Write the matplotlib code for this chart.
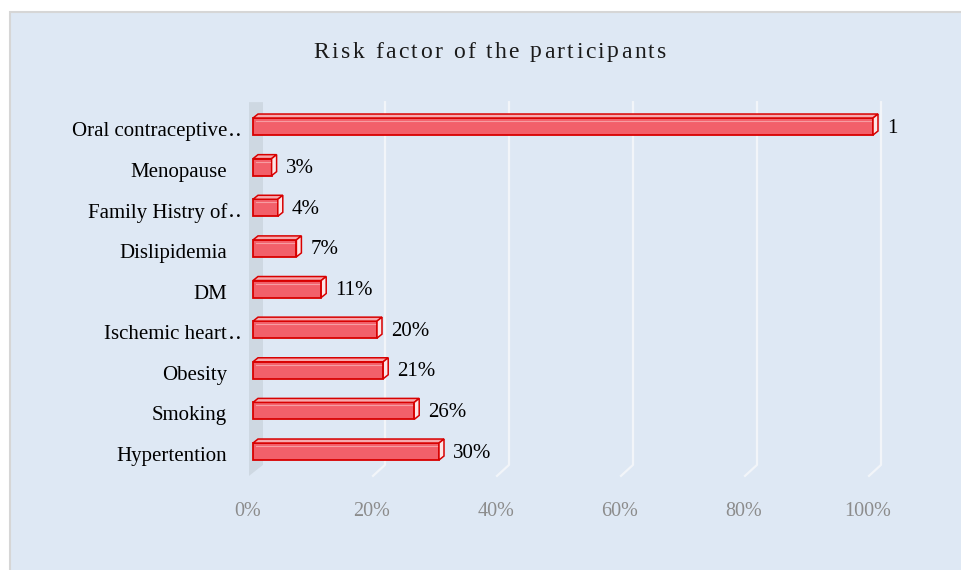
import matplotlib.pyplot as plt
from matplotlib.patches import Rectangle, Polygon
from matplotlib.textpath import TextToPath
from matplotlib.font_manager import FontProperties

# Data (bottom to top as drawn)
categories = ["Hypertention", "Smoking", "Obesity", "Ischemic heart\u2025",
              "DM", "Dislipidemia", "Family Histry of\u2025", "Menopause",
              "Oral contraceptive\u2025"]
values = [0.30, 0.26, 0.21, 0.20, 0.11, 0.07, 0.04, 0.03, 1.00]
value_labels = ["30%", "26%", "21%", "20%", "11%", "7%", "4%", "3%", "1"]
tick_values = [0, 0.2, 0.4, 0.6, 0.8, 1.0]
tick_labels = ["0%", "20%", "40%", "60%", "80%", "100%"]
title = "Risk factor of the participants"

W, H = 962, 570
plt.rcParams["font.family"] = ["Liberation Serif", "DejaVu Serif"]
fig = plt.figure(figsize=(W / 100, H / 100), dpi=100)
fig.patch.set_facecolor("white")

# chart panel
fig.patches.append(Rectangle((10 / W, -0.01), 1, (H - 12) / H + 0.01, transform=fig.transFigure,
                             facecolor="#DEE8F4", edgecolor="#D6D6D6", lw=1.5, zorder=-5))

# plot area: x=0 at px 253, 1 at px 873; y index step 40.625 px
px_x = 620.0
px_y = 40.625
ax = fig.add_axes([253 / W, (570 - 475.9) / H, px_x / W, 9.2 * px_y / H])
ax.set_xlim(0, 1)
ax.set_ylim(-0.6, 8.6)
ax.axis("off")
ax.set_zorder(1)

dx = lambda p: p / px_x
dy = lambda p: p / px_y

y_floor_top = -0.6 + dy(11)
# back wall
ax.add_patch(Polygon([(dx(-4), 8.6), (dx(10), 8.6), (dx(10), y_floor_top), (dx(-4), -0.6)],
                     closed=True, facecolor="#CED8E2", edgecolor="none", zorder=1, clip_on=False))
# gridlines
for v in tick_values[1:]:
    ax.plot([v + dx(8), v + dx(8), v - dx(4)], [8.6, y_floor_top, -0.6],
            color="#F2F5F9", lw=1.6, zorder=1, clip_on=False)

# 3D bars
bh = dy(17)
depth_x, depth_y = dx(5), dy(4)
red = "#D80000"
fs = 15
for i, v in enumerate(values):
    y0 = i - bh / 2
    ax.add_patch(Rectangle((0, y0), v, bh, facecolor="#F2606A", edgecolor=red,
                           lw=1.3, zorder=3, clip_on=False))
    # top face
    ax.add_patch(Polygon([(0, y0 + bh), (v, y0 + bh), (v + depth_x, y0 + bh + depth_y),
                          (depth_x, y0 + bh + depth_y)], closed=True,
                         facecolor="#F6A9AD", edgecolor=red, lw=1.1, zorder=3, clip_on=False))
    # right face
    ax.add_patch(Polygon([(v, y0), (v + depth_x, y0 + depth_y), (v + depth_x, y0 + bh + depth_y),
                          (v, y0 + bh)], closed=True,
                         facecolor="#FCE6E7", edgecolor=red, lw=1.1, zorder=3, clip_on=False))
    # light stripe on the front face
    ax.plot([dx(3), v - dx(2)], [y0 + bh - dy(3), y0 + bh - dy(3)], color="#F79CA1",
            lw=0.8, zorder=4, clip_on=False)
    ax.text(v + dx(14), i - dy(1.5), value_labels[i], ha="left", va="center", fontsize=fs,
            color="black", zorder=5)
    # category label: truncated names show their dots past the label edge
    name = categories[i]
    base = name.rstrip("\u2025")
    ax.text(-dx(26), i - dy(5), base, ha="right", va="center", fontsize=fs,
            color="black")
    if base != name:
        ax.text(-dx(25), i - dy(5), "\u2025", ha="left", va="center", fontsize=fs,
                color="black")

for v, lab in zip(tick_values, tick_labels):
    ax.text(v - dx(5), -0.6 - dy(36), lab, ha="center", va="center", fontsize=14.5,
            color="#8C8C8C")

# letter-spaced title
prop = FontProperties(family="Liberation Serif", size=17)
t2p = TextToPath()
def text_w(s):
    # width in pixels (points -> pixels at dpi 100)
    w_bar = t2p.get_text_width_height_descent("|", prop, ismath=False)[0]
    w = t2p.get_text_width_height_descent(s + "|", prop, ismath=False)[0] - w_bar
    return w * 100 / 72
extra = 2.4
total = text_w(title) + extra * (len(title) - 1)
x0 = 490 - total / 2
for k, ch in enumerate(title):
    xk = x0 + text_w(title[:k]) + extra * k
    fig.text(xk / W, 1 - 52 / H, ch, ha="left", va="center", fontproperties=prop,
             color="#1A1A1A")

fig.savefig("out.png", dpi=100)
